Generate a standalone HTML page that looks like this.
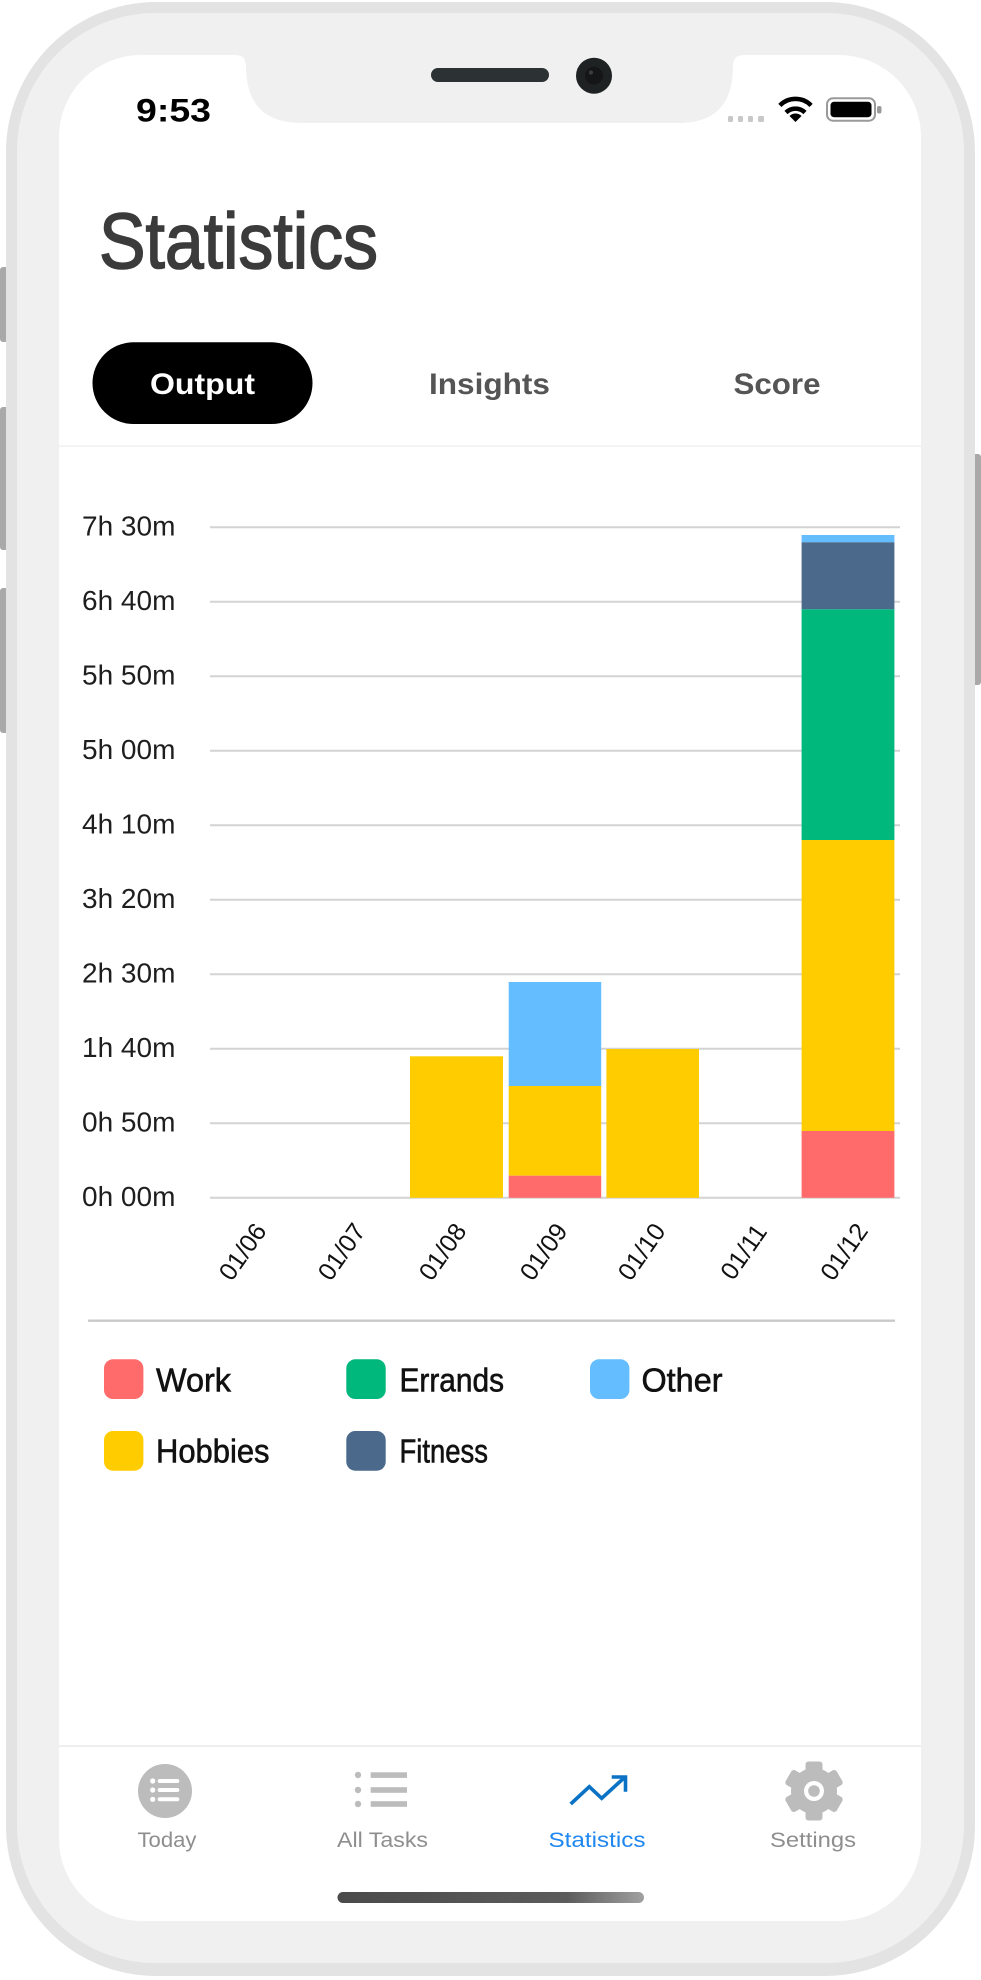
<!DOCTYPE html>
<html>
<head>
<meta charset="utf-8">
<style>
  html,body{margin:0;padding:0;background:#ffffff;}
  svg{display:block;}
  text{font-family:"Liberation Sans", sans-serif;}
</style>
</head>
<body>
<svg width="981" height="1980" viewBox="0 0 981 1980" xmlns="http://www.w3.org/2000/svg">
  <defs>
    <linearGradient id="homeg" x1="0" x2="1" y1="0" y2="0">
      <stop offset="0" stop-color="#4a4a4a"/>
      <stop offset="0.75" stop-color="#5c5c5c"/>
      <stop offset="1" stop-color="#a0a0a0"/>
    </linearGradient>
  </defs>

  <!-- side buttons -->
  <rect x="0" y="267" width="12" height="75" rx="3" fill="#a9a9a9"/>
  <rect x="0" y="407" width="12" height="143" rx="3" fill="#a9a9a9"/>
  <rect x="0" y="588" width="12" height="145" rx="3" fill="#a9a9a9"/>
  <rect x="969" y="454" width="12" height="231" rx="3" fill="#a9a9a9"/>

  <!-- phone body -->
  <rect x="6" y="2" width="969" height="1974" rx="150" fill="#e3e3e3"/>
  <rect x="17" y="13" width="947" height="1950" rx="138" fill="#f0f0f0"/>

  <!-- screen -->
  <rect x="59" y="55" width="862" height="1866" rx="82" fill="#ffffff"/>

  <!-- notch -->
  <path d="M 234 55 C 243 55 246 58 246 68 C 247 106 266 123 302 123 L 678 123 C 714 123 732 106 733 68 C 733 58 736 55 746 55 Z" fill="#f0f0f0"/>
  <rect x="431" y="68" width="118" height="14" rx="7" fill="#2c3133"/>
  <circle cx="594" cy="75.7" r="18" fill="#1f2223"/>
  <circle cx="594" cy="75.7" r="9" fill="#141617"/>
  <circle cx="591" cy="72.5" r="2" fill="#3a4042"/>

  <!-- status bar -->
  <text x="136" y="121.7" font-size="32" font-weight="bold" fill="#000" textLength="75" lengthAdjust="spacingAndGlyphs">9:53</text>
  <rect x="728" y="116" width="5" height="6" rx="1.5" fill="#c8c8c8"/>
  <rect x="738" y="116" width="5" height="6" rx="1.5" fill="#c8c8c8"/>
  <rect x="748" y="116" width="5" height="6" rx="1.5" fill="#c8c8c8"/>
  <rect x="758" y="116" width="6" height="6" rx="1.5" fill="#c8c8c8"/>
  <!-- wifi -->
  <g fill="none" stroke="#000" stroke-width="4.5" stroke-linecap="butt">
    <path d="M 779.9 105.4 A 22 22 0 0 1 811.1 105.4"/>
    <path d="M 786 112.5 A 13.5 13.5 0 0 1 805 112.5"/>
  </g>
  <path d="M 795.5 122 L 789.5 116 A 8.5 8.5 0 0 1 801.5 116 Z" fill="#000"/>
  <!-- battery -->
  <rect x="827" y="98.3" width="48" height="22.4" rx="6" fill="#fff" stroke="#9a9a9a" stroke-width="2"/>
  <rect x="830.5" y="101.8" width="41" height="15.4" rx="3.5" fill="#000"/>
  <rect x="877" y="106" width="4.5" height="7.5" rx="2" fill="#9a9a9a"/>

  <!-- title -->
  <text x="99" y="268" font-size="79" fill="#3b3b3b" stroke="#3b3b3b" stroke-width="1.6" textLength="279" lengthAdjust="spacingAndGlyphs">Statistics</text>

  <!-- segmented tabs -->
  <rect x="92.5" y="342.3" width="220" height="81.7" rx="41" fill="#000"/>
  <text x="202.5" y="394" font-size="30" font-weight="bold" fill="#fff" text-anchor="middle" textLength="105" lengthAdjust="spacingAndGlyphs">Output</text>
  <text x="489.5" y="394" font-size="30" font-weight="bold" fill="#555" text-anchor="middle" textLength="121" lengthAdjust="spacingAndGlyphs">Insights</text>
  <text x="777" y="394" font-size="30" font-weight="bold" fill="#555" text-anchor="middle" textLength="87" lengthAdjust="spacingAndGlyphs">Score</text>
  <rect x="59" y="445.5" width="862" height="1.2" fill="#ececec"/>

  <!-- gridlines -->
  <g stroke="#d3d3d3" stroke-width="2">
    <line x1="210" x2="900" y1="527.3" y2="527.3"/>
    <line x1="210" x2="900" y1="601.8" y2="601.8"/>
    <line x1="210" x2="900" y1="676.3" y2="676.3"/>
    <line x1="210" x2="900" y1="750.8" y2="750.8"/>
    <line x1="210" x2="900" y1="825.3" y2="825.3"/>
    <line x1="210" x2="900" y1="899.8" y2="899.8"/>
    <line x1="210" x2="900" y1="974.3" y2="974.3"/>
    <line x1="210" x2="900" y1="1048.8" y2="1048.8"/>
    <line x1="210" x2="900" y1="1123.3" y2="1123.3"/>
    <line x1="210" x2="900" y1="1197.8" y2="1197.8"/>
  </g>

  <!-- y labels -->
  <g font-size="28" fill="#1e1e1e">
    <text x="82" y="535.3">7h 30m</text>
    <text x="82" y="609.8">6h 40m</text>
    <text x="82" y="684.3">5h 50m</text>
    <text x="82" y="758.8">5h 00m</text>
    <text x="82" y="833.3">4h 10m</text>
    <text x="82" y="907.8">3h 20m</text>
    <text x="82" y="982.3">2h 30m</text>
    <text x="82" y="1056.8">1h 40m</text>
    <text x="82" y="1131.3">0h 50m</text>
    <text x="82" y="1205.8">0h 00m</text>
  </g>

  <!-- bars -->
  <rect x="410" y="1056.3" width="93" height="141.5" fill="#ffcc00"/>
  <rect x="508.7" y="982" width="92.5" height="104" fill="#64bdff"/>
  <rect x="508.7" y="1086" width="92.5" height="89.7" fill="#ffcc00"/>
  <rect x="508.7" y="1175.7" width="92.5" height="22.1" fill="#ff6b6b"/>
  <rect x="606.4" y="1049" width="92.6" height="148.8" fill="#ffcc00"/>
  <rect x="801.6" y="535" width="92.8" height="7.3" fill="#64bdff"/>
  <rect x="801.6" y="542.3" width="92.8" height="67" fill="#4a698b"/>
  <rect x="801.6" y="609.3" width="92.8" height="230.7" fill="#00b77c"/>
  <rect x="801.6" y="840" width="92.8" height="291" fill="#ffcc00"/>
  <rect x="801.6" y="1131" width="92.8" height="66.8" fill="#ff6b6b"/>

  <!-- x labels -->
  <g font-size="25" fill="#111" text-anchor="middle" dominant-baseline="central">
    <text transform="translate(243,1252) rotate(-55)">01/06</text>
    <text transform="translate(342,1252) rotate(-55)">01/07</text>
    <text transform="translate(443,1252) rotate(-55)">01/08</text>
    <text transform="translate(544,1252) rotate(-55)">01/09</text>
    <text transform="translate(642,1252) rotate(-55)">01/10</text>
    <text transform="translate(744,1252) rotate(-55)">01/11</text>
    <text transform="translate(844.5,1252) rotate(-55)">01/12</text>
  </g>

  <!-- divider -->
  <line x1="89" x2="894" y1="1320.7" y2="1320.7" stroke="#c9c9c9" stroke-width="2.4" stroke-linecap="round"/>

  <!-- legend -->
  <rect x="104" y="1359.3" width="39.4" height="39.7" rx="9" fill="#ff6b6b"/>
  <rect x="346.3" y="1359.3" width="39.4" height="39.7" rx="9" fill="#00b77c"/>
  <rect x="590" y="1359.3" width="39.4" height="39.7" rx="9" fill="#64bdff"/>
  <rect x="104" y="1431" width="39.4" height="39.7" rx="9" fill="#ffcc00"/>
  <rect x="346.3" y="1431" width="39.4" height="39.7" rx="9" fill="#4a698b"/>
  <g font-size="33" fill="#111" stroke="#111" stroke-width="0.6">
    <text x="156" y="1391.7" textLength="75" lengthAdjust="spacingAndGlyphs">Work</text>
    <text x="399.5" y="1391.7" textLength="104.5" lengthAdjust="spacingAndGlyphs">Errands</text>
    <text x="641.5" y="1391.7" textLength="81" lengthAdjust="spacingAndGlyphs">Other</text>
    <text x="156" y="1462.7" textLength="113.5" lengthAdjust="spacingAndGlyphs">Hobbies</text>
    <text x="399.5" y="1462.7" textLength="88.5" lengthAdjust="spacingAndGlyphs">Fitness</text>
  </g>

  <!-- tab bar -->
  <rect x="59" y="1745.5" width="862" height="1.2" fill="#e3e3e3"/>

  <circle cx="165" cy="1791" r="27" fill="#bcbcbc"/>
  <g fill="#fff">
    <circle cx="152.7" cy="1781" r="2.6"/>
    <circle cx="152.7" cy="1790" r="2.6"/>
    <circle cx="152.7" cy="1799.3" r="2.6"/>
    <rect x="157.7" y="1779" width="21.6" height="4" rx="2"/>
    <rect x="157.7" y="1788" width="21.6" height="4" rx="2"/>
    <rect x="157.7" y="1797.3" width="21.6" height="4" rx="2"/>
  </g>

  <g fill="#bcbcbc">
    <circle cx="358" cy="1775" r="3.2"/>
    <circle cx="358" cy="1790" r="3.2"/>
    <circle cx="358" cy="1804" r="3.2"/>
    <rect x="370.7" y="1772.3" width="36.3" height="5.6"/>
    <rect x="370.7" y="1787.2" width="36.3" height="5.6"/>
    <rect x="370.7" y="1801.2" width="36.3" height="5.6"/>
  </g>

  <g fill="none" stroke="#0a72c4" stroke-width="3.6" stroke-linejoin="miter" stroke-linecap="butt">
    <polyline points="570.7,1804 589.3,1786.7 601.7,1798.3 625,1777"/>
    <polyline points="611.7,1777 625.5,1777 625.5,1791.7"/>
  </g>

  <g fill="#bcbcbc" transform="translate(814,1791)">
    <circle cx="0" cy="0" r="23"/>
    <rect x="-8.5" y="-29.5" width="17" height="14" rx="3"/>
    <rect x="-8.5" y="-29.5" width="17" height="14" rx="3" transform="rotate(60)"/>
    <rect x="-8.5" y="-29.5" width="17" height="14" rx="3" transform="rotate(120)"/>
    <rect x="-8.5" y="-29.5" width="17" height="14" rx="3" transform="rotate(180)"/>
    <rect x="-8.5" y="-29.5" width="17" height="14" rx="3" transform="rotate(240)"/>
    <rect x="-8.5" y="-29.5" width="17" height="14" rx="3" transform="rotate(300)"/>
    <circle cx="0" cy="0" r="10" fill="#fff"/>
    <circle cx="0" cy="0" r="5.8" fill="#bcbcbc"/>
  </g>

  <g font-size="21" text-anchor="middle">
    <text x="167" y="1847" fill="#8e8e8e" textLength="59" lengthAdjust="spacingAndGlyphs">Today</text>
    <text x="382.5" y="1847" fill="#8e8e8e" textLength="91" lengthAdjust="spacingAndGlyphs">All Tasks</text>
    <text x="597" y="1847" fill="#1e87f0" textLength="97" lengthAdjust="spacingAndGlyphs">Statistics</text>
    <text x="813" y="1847" fill="#8e8e8e" textLength="86" lengthAdjust="spacingAndGlyphs">Settings</text>
  </g>

  <rect x="337.5" y="1892" width="306.5" height="11" rx="5.5" fill="url(#homeg)"/>
</svg>
</body>
</html>
